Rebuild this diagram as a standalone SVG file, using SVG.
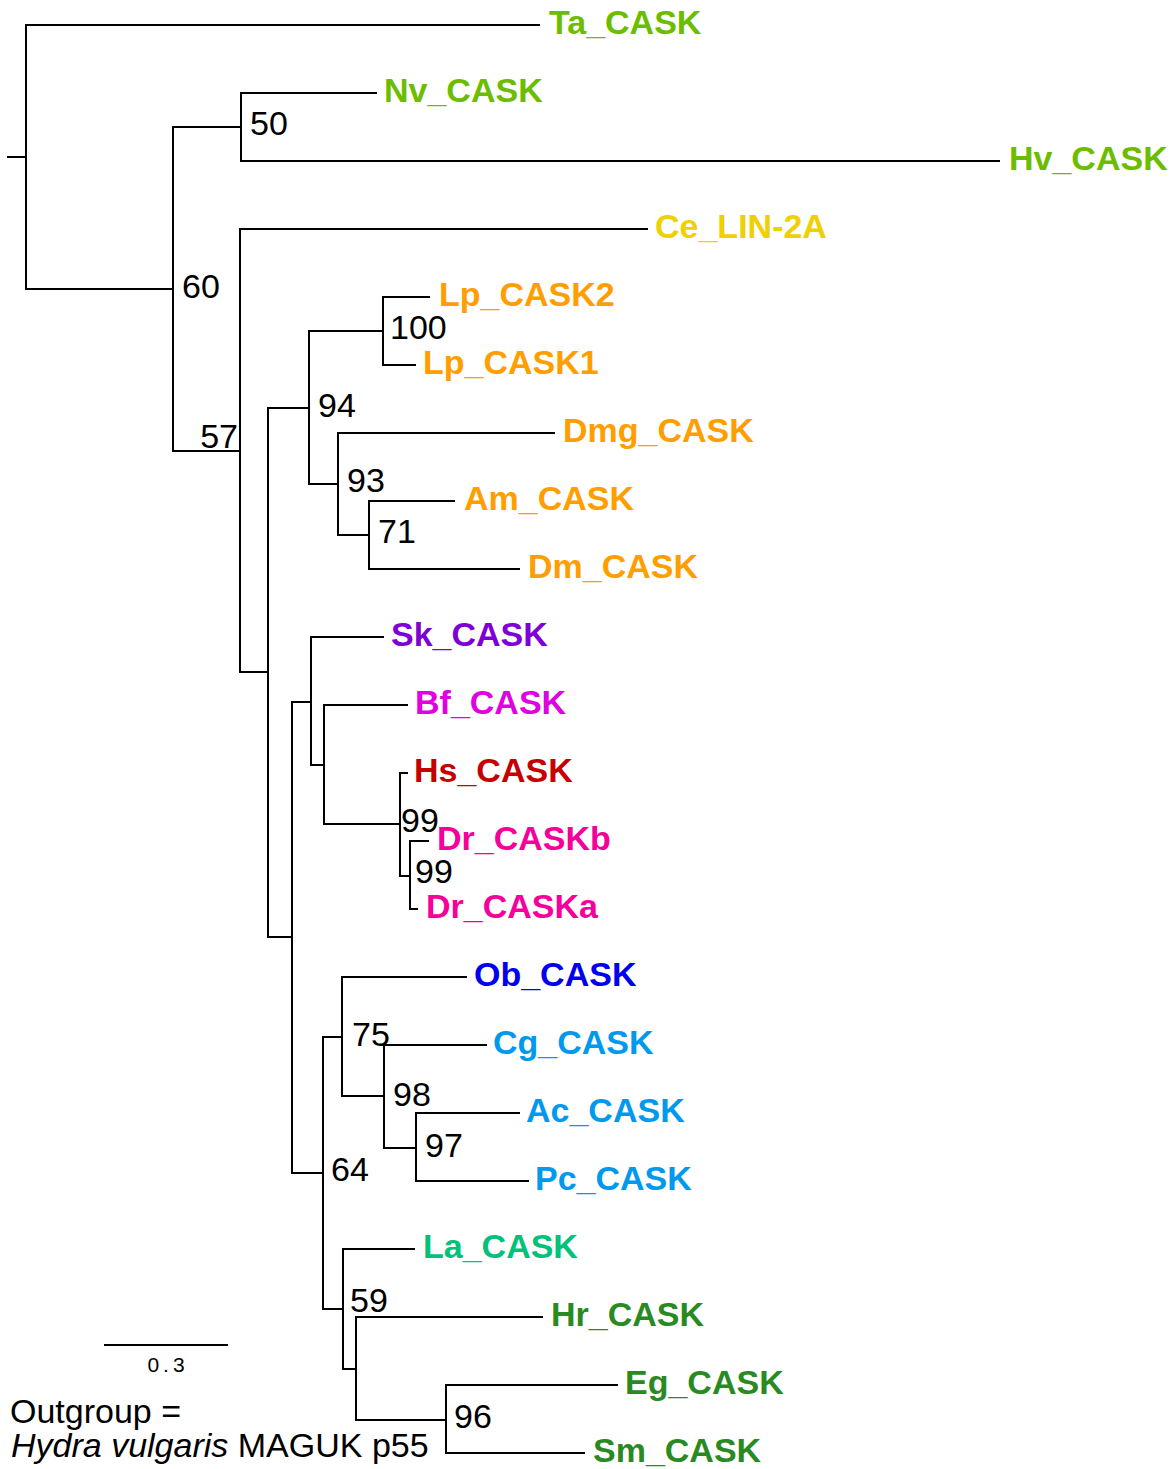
<svg xmlns="http://www.w3.org/2000/svg" width="1175" height="1469" viewBox="0 0 1175 1469">
  <style>
    .br { fill: none; stroke: #000; stroke-width: 2; stroke-linecap: square; }
    .tip { font-family: "Liberation Sans", Arial, sans-serif; font-weight: bold; font-size: 34px; }
    .bs { font-family: "Liberation Sans", Arial, sans-serif; font-size: 34px; fill: #000; }
    .note { font-family: "Liberation Sans", Arial, sans-serif; font-size: 34px; fill: #000; }
    .scale { font-family: "Liberation Sans", Arial, sans-serif; font-size: 21px; letter-spacing: 4px; fill: #000; }
    .cnid { fill: #6cbd00; }
    .nem { fill: #efd000; }
    .art { fill: #ff9e00; }
    .hemi { fill: #7e00d6; }
    .ceph { fill: #e100e1; }
    .hs { fill: #c60000; }
    .dr { fill: #f5009a; }
    .ob { fill: #0000ee; }
    .moll { fill: #0099ee; }
    .brach { fill: #00c27a; }
    .flat { fill: #2a8a22; }
  </style>
  <rect width="1175" height="1469" fill="#fff"/>

  <!-- branches: one vertical per internal node, one horizontal per child -->
  <g id="branches" class="br">
    <path d="M8,157 H26"/>
    <path d="M26,25 V289"/>
    <path d="M26,25 H539"/>
    <path d="M26,289 H173"/>
    <path d="M173,127 V451"/>
    <path d="M173,127 H241"/>
    <path d="M241,93 V161"/>
    <path d="M241,93 H376"/>
    <path d="M241,161 H999"/>
    <path d="M173,451 H240"/>
    <path d="M240,229 V672"/>
    <path d="M240,229 H647"/>
    <path d="M240,672 H268"/>
    <path d="M268,408 V937"/>
    <path d="M268,408 H309"/>
    <path d="M309,331 V484"/>
    <path d="M309,331 H383"/>
    <path d="M383,297 V365"/>
    <path d="M383,297 H429"/>
    <path d="M383,365 H415"/>
    <path d="M309,484 H338"/>
    <path d="M338,433 V535"/>
    <path d="M338,433 H554"/>
    <path d="M338,535 H369"/>
    <path d="M369,501 V569"/>
    <path d="M369,501 H454"/>
    <path d="M369,569 H519"/>
    <path d="M268,937 H292"/>
    <path d="M292,702 V1173"/>
    <path d="M292,702 H311"/>
    <path d="M311,637 V765"/>
    <path d="M311,637 H383"/>
    <path d="M311,765 H324"/>
    <path d="M324,705 V824"/>
    <path d="M324,705 H407"/>
    <path d="M324,824 H400"/>
    <path d="M400,773 V876"/>
    <path d="M400,773 H407"/>
    <path d="M400,876 H410"/>
    <path d="M410,841 V909"/>
    <path d="M410,841 H428"/>
    <path d="M410,909 H417"/>
    <path d="M292,1173 H323"/>
    <path d="M323,1037 V1309"/>
    <path d="M323,1037 H342"/>
    <path d="M342,977 V1096"/>
    <path d="M342,977 H466"/>
    <path d="M342,1096 H384"/>
    <path d="M384,1045 V1148"/>
    <path d="M384,1045 H486"/>
    <path d="M384,1148 H416"/>
    <path d="M416,1113 V1181"/>
    <path d="M416,1113 H519"/>
    <path d="M416,1181 H528"/>
    <path d="M323,1309 H343"/>
    <path d="M343,1249 V1369"/>
    <path d="M343,1249 H414"/>
    <path d="M343,1369 H356"/>
    <path d="M356,1317 V1420"/>
    <path d="M356,1317 H542"/>
    <path d="M356,1420 H446"/>
    <path d="M446,1385 V1453"/>
    <path d="M446,1385 H617"/>
    <path d="M446,1453 H584"/>
  </g>

  <!-- tip labels -->
  <g id="tip-Ta_CASK"><text class="tip cnid" x="549" y="34">Ta_CASK</text></g>
  <g id="tip-Nv_CASK"><text class="tip cnid" x="384" y="102">Nv_CASK</text></g>
  <g id="tip-Hv_CASK"><text class="tip cnid" x="1009" y="170">Hv_CASK</text></g>
  <g id="tip-Ce_LIN-2A"><text class="tip nem" x="655" y="238">Ce_LIN-2A</text></g>
  <g id="tip-Lp_CASK2"><text class="tip art" x="439" y="306">Lp_CASK2</text></g>
  <g id="tip-Lp_CASK1"><text class="tip art" x="423" y="374">Lp_CASK1</text></g>
  <g id="tip-Dmg_CASK"><text class="tip art" x="563" y="442">Dmg_CASK</text></g>
  <g id="tip-Am_CASK"><text class="tip art" x="464" y="510">Am_CASK</text></g>
  <g id="tip-Dm_CASK"><text class="tip art" x="528" y="578">Dm_CASK</text></g>
  <g id="tip-Sk_CASK"><text class="tip hemi" x="391" y="646">Sk_CASK</text></g>
  <g id="tip-Bf_CASK"><text class="tip ceph" x="415" y="714">Bf_CASK</text></g>
  <g id="tip-Hs_CASK"><text class="tip hs" x="414" y="782">Hs_CASK</text></g>
  <g id="tip-Dr_CASKb"><text class="tip dr" x="437" y="850">Dr_CASKb</text></g>
  <g id="tip-Dr_CASKa"><text class="tip dr" x="426" y="918">Dr_CASKa</text></g>
  <g id="tip-Ob_CASK"><text class="tip ob" x="474" y="986">Ob_CASK</text></g>
  <g id="tip-Cg_CASK"><text class="tip moll" x="493" y="1054">Cg_CASK</text></g>
  <g id="tip-Ac_CASK"><text class="tip moll" x="526" y="1122">Ac_CASK</text></g>
  <g id="tip-Pc_CASK"><text class="tip moll" x="535" y="1190">Pc_CASK</text></g>
  <g id="tip-La_CASK"><text class="tip brach" x="423" y="1258">La_CASK</text></g>
  <g id="tip-Hr_CASK"><text class="tip flat" x="551" y="1326">Hr_CASK</text></g>
  <g id="tip-Eg_CASK"><text class="tip flat" x="625" y="1394">Eg_CASK</text></g>
  <g id="tip-Sm_CASK"><text class="tip flat" x="593" y="1462">Sm_CASK</text></g>

  <!-- bootstrap support values -->
  <g id="support" class="bs">
    <text x="250" y="135">50</text>
    <text x="182" y="298">60</text>
    <text x="238" y="448" text-anchor="end">57</text>
    <text x="318" y="417">94</text>
    <text x="390" y="339">100</text>
    <text x="347" y="492">93</text>
    <text x="378" y="543">71</text>
    <text x="401" y="832">99</text>
    <text x="415" y="883">99</text>
    <text x="352" y="1046">75</text>
    <text x="393" y="1106">98</text>
    <text x="425" y="1157">97</text>
    <text x="331" y="1181">64</text>
    <text x="350" y="1312">59</text>
    <text x="454" y="1428">96</text>
  </g>

  <!-- scale bar -->
  <g id="scale-bar">
    <path class="br" d="M105,1345 H227" stroke-linecap="butt"/>
    <text class="scale" x="168" y="1372" text-anchor="middle">0.3</text>
  </g>

  <!-- outgroup note -->
  <g id="outgroup-note" class="note">
    <text x="10" y="1423">Outgroup =</text>
    <text x="11" y="1457"><tspan font-style="italic">Hydra vulgaris</tspan> MAGUK p55</text>
  </g>
</svg>
